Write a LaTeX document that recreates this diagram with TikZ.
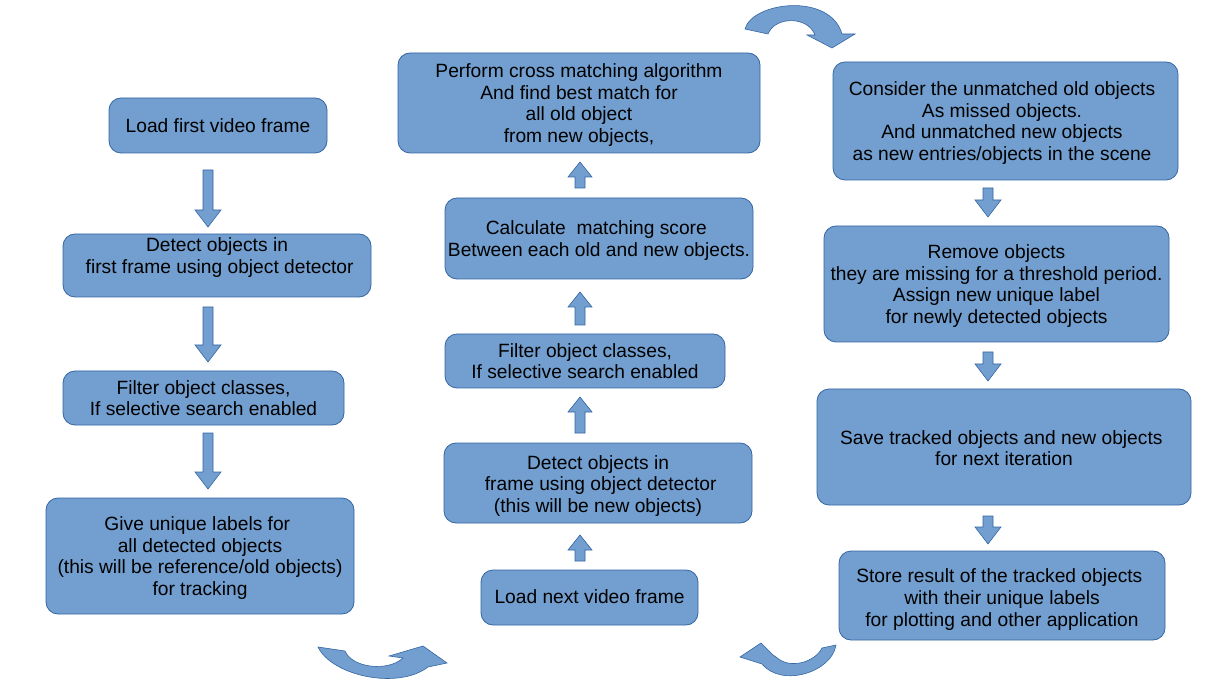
\documentclass[tikz,border=0pt]{standalone}
\usepackage{fontspec}
\setmainfont{Liberation Sans}
\tikzset{
  x=1pt,y=-1pt,
  box/.style={draw=boxline,fill=boxfill,rounded corners=12pt,line width=0.8pt,inner sep=0pt},
  txt/.style={align=center,inner sep=0pt,font=\fontsize{19.2}{21.7}\selectfont},
  barrow/.style={draw=boxline,fill=boxfill,line width=0.6pt,line join=miter},
}
\definecolor{boxfill}{HTML}{729FCF}
\definecolor{boxline}{HTML}{3465A4}
\newcommand{\bdown}[3]{\filldraw[barrow] ({#1-5},#2) -- ({#1+5},#2) -- ({#1+5},{#3-17}) -- ({#1+13},{#3-17}) -- (#1,#3) -- ({#1-13},{#3-17}) -- ({#1-5},{#3-17}) -- cycle;}
\newcommand{\bup}[3]{\filldraw[barrow] ({#1-5},#2) -- ({#1+5},#2) -- ({#1+5},{#3+15}) -- ({#1+12},{#3+15}) -- (#1,#3) -- ({#1-12},{#3+15}) -- ({#1-5},{#3+15}) -- cycle;}
\begin{document}
\begin{tikzpicture}
\useasboundingbox (0,0) rectangle (1218,692);
% left column
\node[box,minimum width=218pt,minimum height=55pt] (b1) at (218,125.5) {};
\node[txt] (t1) at (b1.center) {Load first video frame};
\node[box,minimum width=308pt,minimum height=63pt] (b2) at (217,265.5) {};
\node[txt] (t2) at ([shift={(0,-8)}]b2.center) {Detect objects in\\ \ first frame using object detector};
\node[box,minimum width=281pt,minimum height=54pt] (b3) at (203.5,398) {};
\node[txt] (t3) at (b3.center) {Filter object classes,\\ If selective search enabled};
\node[box,minimum width=308pt,minimum height=116pt] (b4) at (200,556) {};
\node[txt] (t4) at ([shift={(0,2)}]b4.center) {Give unique labels for\ \mbox{}\\ all detected objects\\ (this will be reference/old objects)\\ for tracking};
% middle column
\node[box,minimum width=217pt,minimum height=55pt] (b5) at (589.5,597.5) {};
\node[txt] (t5) at ([shift={(0,-1)}]b5.center) {Load next video frame};
\node[box,minimum width=308pt,minimum height=80pt] (b6) at (598,483) {};
\node[txt] (t6) at ([shift={(0,3)}]b6.center) {Detect objects in\\ \ frame using object detector\\ (this will be new objects)};
\node[box,minimum width=280pt,minimum height=54pt] (b7) at (585,361) {};
\node[txt] (t7) at (b7.center) {Filter object classes,\\ If selective search enabled};
\node[box,minimum width=308pt,minimum height=81pt] (b8) at (599,238.5) {};
\node[txt] (t8) at ([shift={(0,2)}]b8.center) {Calculate\ \ matching score\ \mbox{}\\ Between each old and new objects.};
\node[box,minimum width=362pt,minimum height=100pt] (b9) at (579,103) {};
\node[txt] (t9) at ([shift={(0,2)}]b9.center) {Perform cross matching algorithm\\ And find best match for\\ all old object\\ from new objects,};
% right column
\node[box,minimum width=345pt,minimum height=118pt] (b10) at (1005.5,121) {};
\node[txt] (t10) at ([shift={(-3.5,2)}]b10.center) {Consider the unmatched old objects\\ As missed objects.\\ And unmatched new objects\\ as new entries/objects in the scene};
\node[box,minimum width=345pt,minimum height=116pt] (b11) at (996.5,284) {};
\node[txt] (t11) at ([shift={(0,2)}]b11.center) {Remove objects\\ they are missing for a threshold period.\\ Assign new unique label\\ for newly detected objects};
\node[box,minimum width=374pt,minimum height=116pt] (b12) at (1004,447) {};
\node[txt] (t12) at ([shift={(0,1)}]b12.center) {Save tracked objects and new objects\ \mbox{}\\ for next iteration};
\node[box,minimum width=326pt,minimum height=89pt] (b13) at (1002,595.5) {};
\node[txt] (t13) at ([shift={(0,4)}]b13.center) {Store result of the tracked objects\ \mbox{}\\ with their unique labels\\ for plotting and other application};
% block arrows
\bdown{208}{170}{227}
\bdown{208}{307}{362}
\bdown{208}{433}{489}
\bup{580}{561}{535}
\bup{580}{433}{397}
\bup{580}{325}{292}
\bup{580}{188}{162}
\bdown{988}{188}{217}
\bdown{988}{352}{381}
\bdown{988}{516}{544}
% curved arrows
\filldraw[barrow] (318,647) .. controls (332,676) and (398,690) .. (428,667) -- (447,663) -- (423,646) -- (389,656) -- (403,658) .. controls (388,672) and (352,668) .. (345,651) -- cycle;
\filldraw[barrow] (836,645) .. controls (832,672) and (782,688) .. (762,664) -- (740,657) -- (761,643) -- (773,655) -- (776,657) .. controls (790,670) and (815,662) .. (822,648) -- cycle;
\filldraw[barrow] (745,29) .. controls (752,2) and (830,-8) .. (842,34) -- (855,34) -- (832,48) -- (807,35) -- (815,35) .. controls (808,16) and (775,16) .. (768,34) -- cycle;
\end{tikzpicture}
\end{document}
